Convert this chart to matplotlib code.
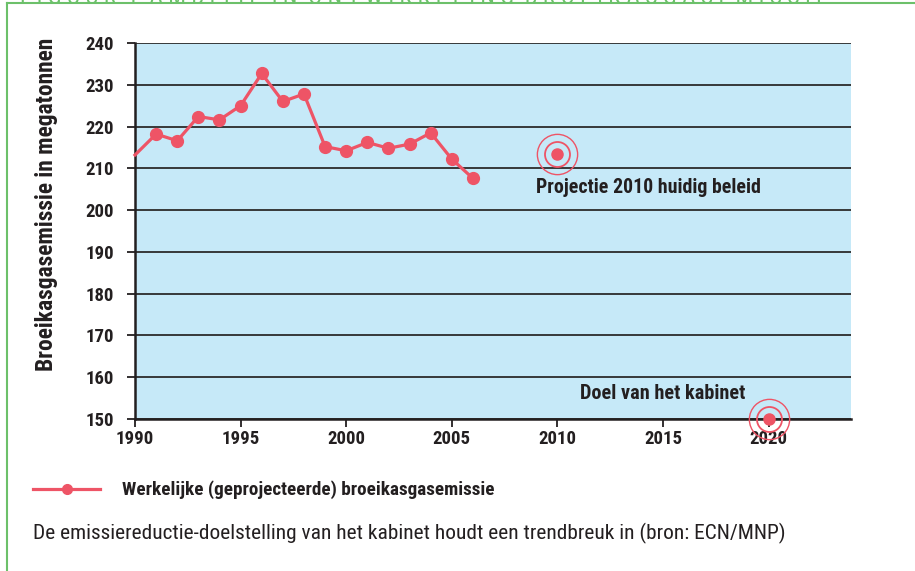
import os
import matplotlib.pyplot as plt
import matplotlib.font_manager as fm
from matplotlib.lines import Line2D

years = [1990, 1991, 1992, 1993, 1994, 1995, 1996, 1997, 1998, 1999,
         2000, 2001, 2002, 2003, 2004, 2005, 2006]
emissie = [213.2, 218.2, 216.6, 222.4, 221.6, 225.0, 232.7, 226.0, 227.8, 215.2,
           214.2, 216.2, 214.8, 215.8, 218.5, 212.2, 207.6]
projectie_jaar, projectie_waarde = 2010, 213.4
doel_jaar, doel_waarde = 2020, 150
yticks = [150, 160, 170, 180, 190, 200, 210, 220, 230, 240]
xticks = [1990, 1995, 2000, 2005, 2010, 2015, 2020]

red = "#ee5466"
green = "#6cc06a"
ink = "#231f20"


# smal lettertype zoeken (Myriad Condensed-achtig), anders Lato
def pick_font(wanted):
    files = {os.path.basename(f.fname): f.fname for f in fm.fontManager.ttflist}
    for w in wanted:
        if w in files:
            return fm.FontProperties(fname=files[w])
    return None


bold = pick_font(["LiberationSansNarrow-Bold.ttf", "RobotoCondensed-Bold.ttf",
                  "DejaVuSansCondensed-Bold.ttf"]) or fm.FontProperties(family="Lato", weight="bold")
regular = pick_font(["LiberationSansNarrow-Regular.ttf", "RobotoCondensed-Regular.ttf",
                     "DejaVuSansCondensed.ttf"]) or fm.FontProperties(family="Lato")


def fp(base, size):
    p = base.copy()
    p.set_size(size)
    return p


fig = plt.figure(figsize=(9.15, 5.71), dpi=100)
ax = fig.add_axes([135/915, 1 - 419/571, (851 - 135)/915, (419 - 43)/571])
ax.set_facecolor("#c6e9f8")

ax.plot(years, emissie, color=red, lw=2.3, marker="o", markersize=8.5,
        markevery=list(range(1, len(years))), zorder=3, clip_on=False)

# doelpunten met ringen
for x, y in [(projectie_jaar, projectie_waarde), (doel_jaar, doel_waarde)]:
    ax.plot(x, y, "o", color=red, markersize=8, zorder=4, clip_on=False)
    ax.plot(x, y, "o", mfc="none", mec=red, mew=1.3, markersize=18, zorder=4, clip_on=False)
    ax.plot(x, y, "o", mfc="none", mec=red, mew=1.0, markersize=29, zorder=4, clip_on=False)

ax.text(2009.0, 205.5, "Projectie 2010 huidig beleid", fontproperties=fp(bold, 14.3),
        color=ink, ha="left", va="center")
ax.text(2015.0, 156.2, "Doel van het kabinet", fontproperties=fp(bold, 14.6),
        color=ink, ha="center", va="center")

ax.set_xlim(1990, 2023.9)
ax.set_ylim(150, 240)
ax.set_yticks(yticks)
ax.set_xticks(xticks)
ax.yaxis.grid(True, color="#2b2b2b", lw=1.3)
ax.set_axisbelow(True)
for s in ["top", "right"]:
    ax.spines[s].set_visible(False)
for s in ["left", "bottom"]:
    ax.spines[s].set_linewidth(1.8)
    ax.spines[s].set_color(ink)
ax.tick_params(axis="both", direction="out", length=6, width=1.3, color=ink,
               labelcolor=ink)
ax.tick_params(axis="y", pad=9)
ax.tick_params(axis="x", pad=2)
for lbl in ax.get_xticklabels() + ax.get_yticklabels():
    lbl.set_fontproperties(fp(bold, 13.5))

ax.set_ylabel("Broeikasgasemissie in megatonnen", fontproperties=fp(bold, 16.9),
              color=ink)
ax.yaxis.set_label_coords(-0.108, 0.572)

# legenda
fig.add_artist(Line2D([33/915, 100/915], [1 - 489/571]*2, color=red, lw=2.3,
                      transform=fig.transFigure))
fig.add_artist(Line2D([67/915], [1 - 489/571], color=red, marker="o", markersize=7,
                      transform=fig.transFigure))
fig.text(122/915, 1 - 490/571, "Werkelijke (geprojecteerde) broeikasgasemissie",
         fontproperties=fp(bold, 13.8), color=ink, va="center")
fig.text(33/915, 1 - 533/571,
         "De emissiereductie-doelstelling van het kabinet houdt een trendbreuk in (bron: ECN/MNP)",
         fontproperties=fp(regular, 15.4), color=ink, va="center")

# kader en afgesneden titel
fig.add_artist(Line2D([7/915, 7/915], [0, 1 - 3/571], color=green, lw=1.5,
                      transform=fig.transFigure))
fig.add_artist(Line2D([7/915, 1], [1 - 3/571]*2, color=green, lw=1.5,
                      transform=fig.transFigure))
fig.text(20/915, 1 - 3.5/571,
         "F I G U U R  1  A M B I T I E  I N  O N T W I K K E L I N G  B R O E I K A S G A S E M I S S I E",
         fontproperties=fp(regular, 16.9), color=green, va="baseline")

fig.savefig("out.png", dpi=100)
